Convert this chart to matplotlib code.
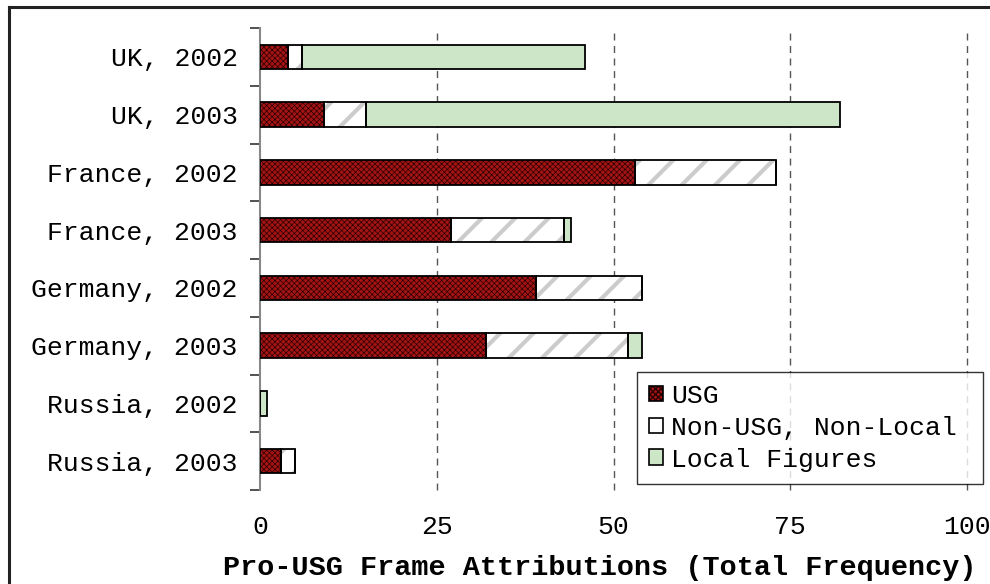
import matplotlib
matplotlib.use("Agg")
import matplotlib.pyplot as plt
from matplotlib.patches import Patch
from matplotlib.lines import Line2D
import numpy as np

# данные (частоты)
categories = ["UK, 2002", "UK, 2003", "France, 2002", "France, 2003",
              "Germany, 2002", "Germany, 2003", "Russia, 2002", "Russia, 2003"]
usg = [4, 9, 53, 27, 39, 32, 0, 3]
non_usg = [2, 6, 20, 16, 15, 20, 0, 2]
local = [40, 67, 0, 1, 0, 2, 1, 0]
series_names = ["USG", "Non-USG, Non-Local", "Local Figures"]
xticks = [0, 25, 50, 75, 100]

MONO = "Liberation Mono"
FS = 19

# стиль сегментов: заливка, штриховка, цвет штриховки, толщина штриховки
styles = [
    ("#a51414", "xxxxxx", "#2a0000", 0.5),
    ("#ffffff", "/", "#cccccc", 3.0),
    ("#cde6c7", "", "#cde6c7", 0.5),
]

plt.rcParams["font.family"] = [MONO, "DejaVu Sans"]


def hatched_patch(fc, hatch, hc, hlw, **kw):
    with plt.rc_context({"hatch.linewidth": hlw}):
        p = Patch(facecolor=fc, hatch=hatch, edgecolor=hc, linewidth=0, **kw)
    p.set_hatch_linewidth(hlw)
    return p


fig = plt.figure(figsize=(9.9, 5.84), dpi=100)
ax = fig.add_axes([260 / 990, 1 - 490 / 584, (967 - 260) / 990, (490 - 28) / 584])

y = np.arange(len(categories))
left = np.zeros(len(categories))
bar_h = 0.42
for vals, (fc, hatch, hc, hlw) in zip([usg, non_usg, local], styles):
    vals = np.array(vals, dtype=float)
    with plt.rc_context({"hatch.linewidth": hlw}):
        bars = ax.barh(y, vals, left=left, height=bar_h, color=fc, hatch=hatch,
                       edgecolor=hc, linewidth=0, zorder=2)
    for b in bars:
        b.set_hatch_linewidth(hlw)
    ax.barh(y, vals, left=left, height=bar_h, fill=False,
            edgecolor="black", linewidth=1.3, zorder=3)
    left += vals

ax.set_xlim(0, 100)
ax.set_ylim(len(categories) - 0.5, -0.5)
ax.set_xticks(xticks)
ax.set_xticklabels([str(t) for t in xticks], fontsize=FS)
ax.tick_params(axis="x", length=0, pad=18)
ax.set_yticks(y)
ax.set_yticklabels(categories, fontsize=FS)
ax.set_yticks(np.arange(-0.5, len(categories)), minor=True)
ax.tick_params(axis="y", which="major", length=0, pad=16)
ax.tick_params(axis="y", which="minor", length=7, width=1.2, color="#333333")

for s in ["top", "right", "bottom"]:
    ax.spines[s].set_visible(False)
ax.spines["left"].set_color("#888888")
ax.spines["left"].set_linewidth(1.5)

for t in xticks[1:]:
    ax.axvline(t, color="#555555", linewidth=1.0, dashes=(5, 4), zorder=1,
               clip_on=False)

ax.set_xlabel("Pro-USG Frame Attributions (Total Frequency)",
              fontsize=20.5, fontweight="bold")
ax.xaxis.set_label_coords((600 - 260) / 707, -(568 - 490) / 462)
ax.xaxis.label.set_va("center")

handles = []
for fc, hatch, hc, hlw in styles:
    inner = hatched_patch(fc, hatch, hc, hlw)
    outline = Patch(fill=False, edgecolor="black", linewidth=1.2)
    handles.append((inner, outline))
leg = fig.legend(handles, series_names, loc="upper left",
                 bbox_to_anchor=(637 / 990, 1 - 372 / 584, 346 / 990, 0),
                 mode="expand",
                 prop={"family": MONO, "size": FS}, frameon=True, fancybox=False,
                 handlelength=0.55, handleheight=0.55, handletextpad=0.3,
                 borderpad=0.45, labelspacing=0.3, borderaxespad=0)
leg.get_frame().set_edgecolor("black")
leg.get_frame().set_linewidth(1.0)

# рамка вокруг всей фигуры (правый и нижний края обрезаны)
fig.add_artist(Line2D([8.5 / 990, 8.5 / 990], [0, 1 - 7 / 584],
                      transform=fig.transFigure, color="#222222", linewidth=2.2))
fig.add_artist(Line2D([8.5 / 990, 1], [1 - 7 / 584, 1 - 7 / 584],
                      transform=fig.transFigure, color="#222222", linewidth=2.2))

fig.savefig("out.png", dpi=100, facecolor="white")
